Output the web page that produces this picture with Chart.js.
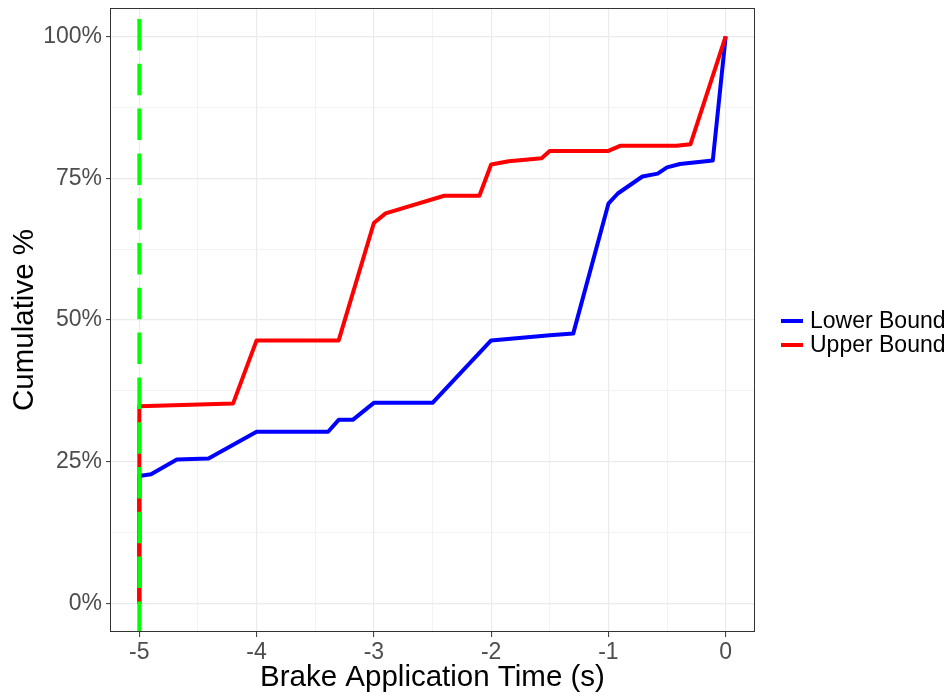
<!DOCTYPE html>
<html>
<head>
<meta charset="utf-8">
<script src="https://cdn.jsdelivr.net/npm/chart.js@4"></script>
<style>
  body { margin: 0; background: #fff; }
  #chart { display: block; }
</style>
</head>
<body>
<canvas id="chart" width="950" height="696"></canvas>
<script>
// Data
const lowerX = [-5, -5, -4.9, -4.68, -4.41, -4.0, -3.39, -3.3, -3.18, -3.0, -2.5, -2.0, -1.5, -1.3, -1.0, -0.92, -0.71, -0.58, -0.5, -0.39, -0.11, 0];
const lowerY = [0, 22.5, 22.8, 25.4, 25.6, 30.3, 30.3, 32.4, 32.4, 35.4, 35.4, 46.4, 47.3, 47.6, 70.5, 72.3, 75.3, 75.8, 76.9, 77.5, 78.1, 100];

const upperX = [-5, -5, -4.2, -4.0, -3.3, -3.0, -2.9, -2.4, -2.1, -2.0, -1.85, -1.57, -1.5, -1.0, -0.9, -0.42, -0.3, 0];
const upperY = [0, 34.8, 35.3, 46.4, 46.4, 67.1, 68.8, 71.9, 71.9, 77.4, 78.0, 78.5, 79.8, 79.8, 80.7, 80.7, 81.0, 100];

const cutoffX = -5;
const xTicks = [-5, -4.5, -4, -3.5, -3, -2.5, -2, -1.5, -1, -0.5, 0];
const yTicks = [0, 12.5, 25, 37.5, 50, 62.5, 75, 87.5, 100];

const seriesNames = ['Lower Bound', 'Upper Bound'];
const seriesColors = ['#0000FF', '#FF0000'];

const FONT = "'Liberation Sans', Arial, sans-serif";

function toPoints(xs, ys) {
  return xs.map((x, i) => ({ x: x, y: ys[i] }));
}

// panel border + legend drawn by hand, ggplot style
const panelPlugin = {
  id: 'panel',
  afterDraw(chart) {
    const ctx = chart.ctx;
    const a = chart.chartArea;
    ctx.save();
    ctx.strokeStyle = '#333333';
    ctx.lineWidth = 1;
    ctx.strokeRect(a.left + 0.5, a.top + 0.5, a.right - a.left - 1, a.bottom - a.top - 1);

    // legend
    ctx.font = '23px ' + FONT;
    ctx.textBaseline = 'middle';
    ctx.textAlign = 'left';
    seriesNames.forEach((name, i) => {
      const y = 321 + i * 24;
      ctx.strokeStyle = seriesColors[i];
      ctx.lineWidth = 4;
      ctx.beginPath();
      ctx.moveTo(781, y);
      ctx.lineTo(803, y);
      ctx.stroke();
      ctx.fillStyle = '#000000';
      ctx.fillText(name, 810, y + 1);
    });
    ctx.restore();
  }
};

const isMajorX = v => Number.isInteger(v);
const isMajorY = v => v % 25 === 0;

new Chart(document.getElementById('chart'), {
  type: 'line',
  data: {
    datasets: [
      {
        label: 'cutoff',
        data: toPoints([cutoffX, cutoffX], [105, -5]),
        borderColor: '#00FF00',
        borderWidth: 4,
        borderDash: [31.5, 13.3],
        borderDashOffset: 33.8,
        borderCapStyle: 'butt',
        pointRadius: 0,
        order: 0
      },
      {
        label: seriesNames[1],
        data: toPoints(upperX, upperY),
        borderColor: seriesColors[1],
        borderWidth: 4,
        borderJoinStyle: 'round',
        pointRadius: 0,
        tension: 0,
        order: 1
      },
      {
        label: seriesNames[0],
        data: toPoints(lowerX, lowerY),
        borderColor: seriesColors[0],
        borderWidth: 4,
        borderJoinStyle: 'round',
        pointRadius: 0,
        tension: 0,
        order: 2
      }
    ]
  },
  options: {
    responsive: false,
    animation: false,
    layout: { padding: { left: 0, right: 195, top: 8, bottom: 0 } },
    plugins: {
      legend: { display: false },
      tooltip: { enabled: false }
    },
    scales: {
      x: {
        type: 'linear',
        min: -5.25,
        max: 0.25,
        afterBuildTicks: s => { s.ticks = xTicks.map(v => ({ value: v })); },
        afterFit: s => { s.height = 64; s.paddingLeft = 0; s.paddingRight = 0; },
        border: { display: false },
        grid: {
          color: '#EBEBEB',
          lineWidth: c => (c.tick && isMajorX(c.tick.value)) ? 1.2 : 0.6,
          tickLength: 5,
          tickWidth: 1,
          tickColor: c => (c.tick && isMajorX(c.tick.value)) ? '#333333' : 'rgba(0,0,0,0)'
        },
        ticks: {
          autoSkip: false,
          maxRotation: 0,
          padding: 2,
          color: '#4D4D4D',
          font: { family: FONT, size: 23 },
          callback: v => isMajorX(v) ? String(v) : ''
        },
        title: {
          display: true,
          text: 'Brake Application Time (s)',
          color: '#000000',
          font: { family: FONT, size: 29.5, lineHeight: 1 },
          padding: { top: 0, bottom: 3.5 }
        }
      },
      y: {
        type: 'linear',
        min: -5,
        max: 105,
        afterBuildTicks: s => { s.ticks = yTicks.map(v => ({ value: v })); },
        afterFit: s => { s.width = 110; s.paddingTop = 0; s.paddingBottom = 0; },
        border: { display: false },
        grid: {
          color: '#EBEBEB',
          lineWidth: c => (c.tick && isMajorY(c.tick.value)) ? 1.2 : 0.6,
          tickLength: 4,
          tickWidth: 1,
          tickColor: c => (c.tick && isMajorY(c.tick.value)) ? '#333333' : 'rgba(0,0,0,0)'
        },
        ticks: {
          padding: 4,
          color: '#4D4D4D',
          font: { family: FONT, size: 23 },
          callback: v => isMajorY(v) ? v + '%' : ''
        },
        title: {
          display: true,
          text: 'Cumulative %',
          color: '#000000',
          font: { family: FONT, size: 29.5, lineHeight: 1 },
          padding: { top: 10, bottom: 0 }
        }
      }
    }
  },
  plugins: [panelPlugin]
});
</script>
</body>
</html>
